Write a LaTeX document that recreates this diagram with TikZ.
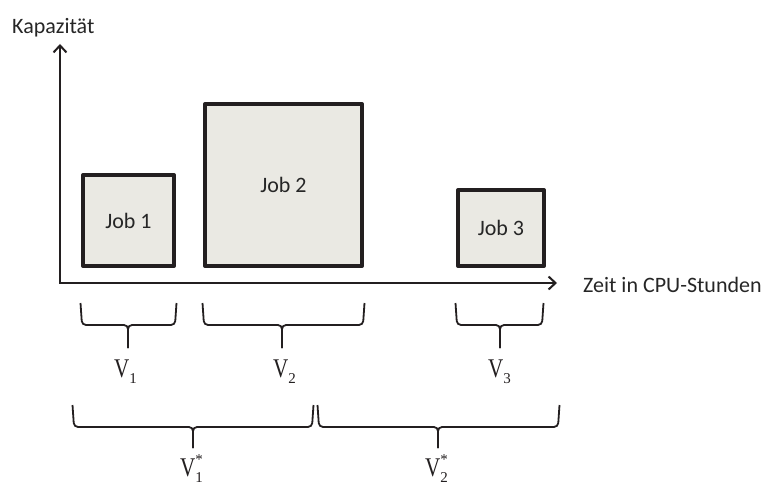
\documentclass[tikz,border=0pt]{standalone}
\usepackage{fontspec}
\setmainfont{Carlito}
\newfontfamily\vfont{Liberation Serif}
\usetikzlibrary{arrows.meta}
\definecolor{boxfill}{HTML}{EAE9E3}
\definecolor{ink}{HTML}{231F20}
\definecolor{txt}{HTML}{262626}
\newcommand\wbrace[6]{% x1, xc, x2, ytop, ymid, ytip
  \draw[bracestyle] (#1-1.5,#4) -- (#1,#5) -- (#2,#5) -- (#2,#6);
  \draw[bracestyle] (#3+1.5,#4) -- (#3,#5) -- (#2,#5) -- (#2,#6);
}
\newcommand\vlab[1]{{\vfont\scalebox{0.78}[1]{\fontsize{27}{27}\selectfont V}\raisebox{-6pt}{\fontsize{15}{15}\selectfont #1}}}
\newcommand\vslab[1]{{\vfont\scalebox{0.78}[1]{\fontsize{27}{27}\selectfont V}\rlap{\raisebox{12pt}{\fontsize{15}{15}\selectfont *}}\raisebox{-6pt}{\fontsize{15}{15}\selectfont #1}}}
\begin{document}
\begin{tikzpicture}[x=1pt,y=-1pt,
  jobbox/.style={draw=ink,fill=boxfill,line width=4pt,line join=round,inner sep=0pt,
    text=txt,font=\fontsize{22}{26}\selectfont},
  axis/.style={draw=ink,line width=2pt,-{Straight Barb[length=7pt,width=13pt,line width=2pt]}},
  bracestyle/.style={draw=ink,line width=1.8pt,rounded corners=4pt},
  axlabel/.style={text=txt,font=\fontsize{22}{26}\selectfont,inner sep=0pt},
  vlabel/.style={text=ink,inner sep=0pt,anchor=base west}]
\useasboundingbox (0,0) rectangle (769,484);
% axes
\coordinate (origin) at (60,283);
\coordinate (ytop) at (60,44);
\coordinate (xend) at (557,283);
\draw[axis] (origin) -- (ytop);
\draw[axis] ([xshift=-1pt]origin) -- (xend);
\node[axlabel,anchor=base west] (kap) at (12,34) {Kapazität};
\node[axlabel,anchor=base west] (zeit) at (583,292) {Zeit in CPU-Stunden};
% jobs
\node[jobbox,minimum width=91pt,minimum height=91pt] (job1) at (128.5,220.5) {Job 1};
\node[jobbox,minimum width=157pt,minimum height=162pt] (job2) at (283.5,185) {Job 2};
\node[jobbox,minimum width=86pt,minimum height=76pt] (job3) at (501,228) {Job 3};
% braces
\wbrace{82}{128}{175}{303}{325}{348}
\wbrace{204}{282}{363}{303}{325}{348}
\wbrace{457}{500}{542}{303}{325}{348}
\wbrace{74}{193}{312}{405}{427}{448}
\wbrace{319}{438}{558}{405}{427}{448}
% labels
\node[vlabel] (v1) at (114,377) {\vlab{1}};
\node[vlabel] (v2) at (273,377) {\vlab{2}};
\node[vlabel] (v3) at (488,377) {\vlab{3}};
\node[vlabel] (v1s) at (180,476) {\vslab{1}};
\node[vlabel] (v2s) at (425,476) {\vslab{2}};
\end{tikzpicture}
\end{document}
